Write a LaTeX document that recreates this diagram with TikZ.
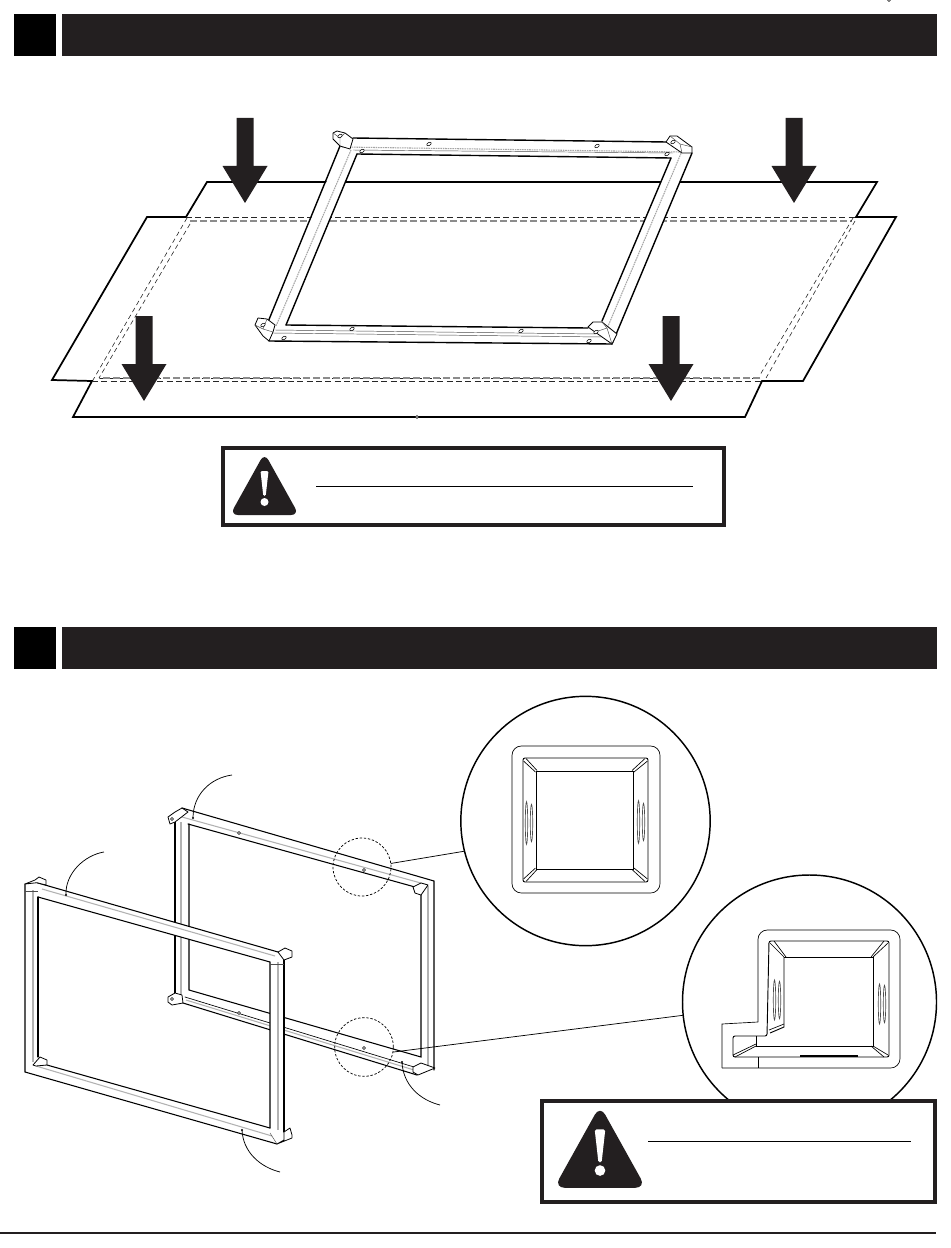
\documentclass[tikz,border=0pt]{standalone}
\definecolor{inkblack}{HTML}{231F20}
\tikzset{
  sheetline/.style={line width=1.3pt, line join=miter},
  hiddenblack/.style={line width=0.6pt, dash pattern=on 4.5pt off 2.5pt, black!85},
  hiddengray/.style={line width=0.8pt, dash pattern=on 5pt off 2.5pt, black!45},
  hiddenthin/.style={line width=0.45pt, dash pattern=on 3.5pt off 2.5pt, black!85},
  railface/.style={fill=white, draw=none},
  blockface/.style={fill=white, draw=black, line width=0.6pt, line join=round},
  railedge/.style={line width=1.05pt, line cap=round},
  frameedge/.style={line width=0.8pt, line cap=round},
  frameside/.style={line width=0.5pt, line cap=round},
  railseam/.style={line width=0.8pt, black!30},
  railthin/.style={line width=0.35pt, black!70},
  railstitch/.style={line width=0.8pt, black!35, dash pattern=on 1.2pt off 0.6pt},
  holemark/.style={draw=black, fill=white, line width=0.4pt},
  tagline/.style={line width=0.55pt},
  spotcirc/.style={circle, draw, fill=none, inner sep=0pt, outer sep=0pt, line width=0.55pt, dash pattern=on 1.8pt off 1.3pt},
  zoomcirc/.style={circle, draw, fill=white, inner sep=0pt, outer sep=0pt, line width=1.1pt},
  warnframe/.style={draw=inkblack, fill=white},
  zoomthick/.style={line width=0.7pt},
  zoomthin/.style={line width=0.5pt},
}
\begin{document}
\begin{tikzpicture}[x=0.75pt, y=-0.75pt]
  \useasboundingbox (0,0) rectangle (950,1248);

  % header bars
  \foreach \barY in {14,627} {
    \fill[black] (14,\barY) rectangle (56,\barY+42);
    \fill[inkblack] (62,\barY) rectangle (937,\barY+42);
  }
  \draw[line width=0.9pt, inkblack] (0,1233) -- (936,1233);

  % two sheets
  \draw[sheetline] (207,182) -- (877,182) -- (856,217) -- (896,217) -- (803,381) -- (762,381)
    -- (745,417) -- (73,417) -- (92,381) -- (52,380) -- (147,217) -- (186,217) -- cycle;
  \draw[hiddenblack] (186,217) -- (856,217);
  \draw[hiddengray] (190,221) -- (852,221);
  \draw[hiddenblack] (99,378) -- (760,378);
  \draw[hiddengray] (760,378) -- (99,378);
  \draw[hiddenblack] (92,381) -- (762,381);
  \draw[hiddenthin] (187,218) -- (93,380);
  \draw[hiddenthin] (190,224) -- (99,378);
  \draw[hiddenthin] (853,218) -- (760,375);
  \draw[hiddenthin] (855,221) -- (766,378);

  % top frame, rails
  \fill[railface] (341,147) -- (353,139) -- (357,155) -- (286,325) -- (268,322) -- cycle;
  \fill[railface] (602,321) -- (671,158) -- (692,153) -- (612,344) -- cycle;
  \fill[railface] (353,138) -- (667,142) -- (680,153) -- (671,158) -- (357,155) -- cycle;
  \fill[railface] (270,326) -- (286,325) -- (588,328) -- (612,344) -- (269,341) -- cycle;
  \draw[railedge] (340,146) -- (268,322);
  \draw[railedge] (357,154) -- (286,325);
  \draw[railedge] (692,153) -- (612,344);
  \draw[railedge] (671,158) -- (602,321);
  \draw[railedge] (353,138) -- (667,142);
  \draw[railedge] (357,154) -- (671,158);
  \draw[railedge] (286,325) -- (588,328);
  \draw[railedge] (269,341) -- (612,344);
  \draw[railstitch] (351,150) -- (276,326);
  \draw[railstitch] (682,151) -- (606,331);
  \draw[railstitch] (342,147) -- (680,152);
  \draw[railthin] (353,150) -- (673,153);
  \draw[railthin] (273,333) -- (602,337);
  \draw[railthin] (275,330) -- (596,334);

  % top frame, corner blocks
  \draw[blockface] (333,133) -- (337,131) -- (345,133) -- (353,139) -- (350,149) -- (340,146) -- (333,139) -- cycle;
  \draw[railthin] (333,133) -- (340,138) -- (340,146);
  \draw[railthin] (340,138) -- (345,133);
  \draw[blockface] (666,142) -- (670,136) -- (677,136) -- (692,147) -- (692,153) -- (682,153) -- cycle;
  \draw[railthin] (670,136) -- (680,144) -- (682,153);
  \draw[railthin] (680,144) -- (692,147);
  \draw[blockface] (255,325) -- (258,318) -- (267,319) -- (275,325) -- (273,332) -- (269,341) -- (263,336) -- cycle;
  \draw[railthin] (255,325) -- (263,329) -- (273,332);
  \draw[railthin] (263,329) -- (267,319);
  \draw[blockface] (588,327) -- (593,322) -- (602,322) -- (617,334) -- (612,344) -- (595,332) -- cycle;
  \draw[railthin] (595,332) -- (607,328) -- (602,322);
  \draw[railthin] (607,328) -- (612,344);

  % holes in the top frame
  \foreach \holeX/\holeY in {429/144,597/146,362/151,667/154,352/329,521/331,284/338,589/341,263/325,596/332,340/136,673/142}
    \draw[holemark, rotate around={30:(\holeX,\holeY)}] (\holeX,\holeY) ellipse (1.8pt and 1.1pt);

  % drop arrows
  \foreach \arrX/\arrY in {245/118,794/118,144/316,671/316}
    \fill[inkblack] (\arrX-8.5,\arrY) -- (\arrX+8.5,\arrY) -- (\arrX+8.5,\arrY+48) -- (\arrX+22.5,\arrY+48)
      -- (\arrX,\arrY+85) -- (\arrX-22.5,\arrY+48) -- (\arrX-8.5,\arrY+48) -- cycle;

  % warning boxes
  \draw[warnframe, line width=2.4pt] (223,448) rectangle (724,525);
  \draw[warnframe, line width=3pt] (542,1101) rectangle (935,1202);

  % back frame
  \fill[railface] (175,820) -- (189,824) -- (189,992) -- (183,1003) -- (175,1000) -- cycle;
  \fill[railface] (420,884) -- (434,881) -- (434,1070) -- (420,1064) -- cycle;
  \fill[railface] (176,811) -- (182,808) -- (434,881) -- (421,886) -- (415,887) -- (188,824) -- (175,820) -- cycle;
  \fill[railface] (188,990) -- (421,1057) -- (421,1064) -- (435,1068) -- (417,1075) -- (183,1003) -- cycle;
  \draw[frameedge] (182,808) -- (434,881) -- (434,1070);
  \draw[frameedge] (188,824) -- (415,887);
  \draw[frameedge] (189,824) -- (189,990) -- (421,1057) -- (421,895);
  \draw[frameedge] (175,822) -- (175,996);
  \draw[frameedge] (183,1003) -- (417,1075);
  \draw[railseam] (181,822) -- (181,997);
  \draw[railseam] (428,886) -- (428,1066);
  \draw[railseam] (182,817) -- (428,885);
  \draw[frameside] (185,997) -- (414,1067);
  \draw[railseam] (186,1000) -- (414,1070);
  \draw[blockface] (168,817) -- (175,812) -- (182,808) -- (188,812) -- (175,822) -- (170,824) -- cycle;
  \draw[blockface] (168,997) -- (175,993) -- (182,995) -- (183,1003) -- (172,1005) -- (168,1002) -- cycle;
  \draw[blockface] (413,887) -- (421,883) -- (428,885) -- (421,895) -- (415,893) -- cycle;
  \draw[blockface] (413,1067) -- (421,1063) -- (435,1068) -- (418,1075) -- (413,1072) -- cycle;
  \foreach \holeX/\holeY in {239/833,364/870,239/1013,364/1048,172/819,172/999,417,889/0/0}
    \ifx\holeY\undefined\else\draw[holemark] (\holeX,\holeY) circle (1.2pt);\fi

  % front frame
  \fill[railface] (25,884) -- (38,883) -- (38,1062) -- (25,1060) -- cycle;
  \fill[railface] (270,962) -- (284,960) -- (284,1132) -- (270,1128) -- cycle;
  \fill[railface] (25,884) -- (37,882.7) -- (278,952) -- (284,960) -- (270,962) -- (38,897) -- (25,892) -- cycle;
  \fill[railface] (38,1062) -- (47,1065) -- (270,1128) -- (284,1132) -- (284,1140) -- (277,1144) -- (25,1072) -- (25,1060) -- cycle;
  \draw[frameedge] (25,884) -- (25,1072) -- (277,1144);
  \draw[frameedge] (38,897) -- (38,1057);
  \draw[frameedge] (37,882.7) -- (278,952);
  \draw[frameedge] (38,897) -- (270,962) -- (270,1128);
  \draw[frameedge] (284,960) -- (284,1132);
  \draw[frameedge] (47,1065) -- (270,1128);
  \draw[railseam] (33,890) -- (33,1062);
  \draw[railseam] (278,962) -- (278,1130);
  \draw[railseam] (42,889) -- (275,956);
  \draw[railseam] (36,1066) -- (272,1136);
  \draw[railthin] (25,891) -- (38,891);
  \draw[railthin] (270,964) -- (284,964);
  \draw[railthin] (270,1133) -- (277,1144);
  \draw[blockface] (25,884) -- (35,880) -- (39,877) -- (46,880) -- (46,885) -- (37,882.7) -- cycle;
  \draw[blockface] (278,952) -- (285,948) -- (292,951) -- (292,957) -- (284,960) -- cycle;
  \draw[blockface] (284,1132) -- (290,1128) -- (292,1135) -- (292,1138) -- (277,1144) -- (284,1140) -- cycle;
  \draw[blockface] (33,1065) -- (40,1057) -- (47,1060) -- (47,1065) -- (36,1066) -- cycle;

  % tag curves
  \coordinate (tagBackTop) at (193,818);
  \coordinate (tagBackLow) at (402,1062);
  \coordinate (tagFrontTop) at (66,895);
  \coordinate (tagFrontLow) at (242,1130);
  \draw[tagline] (232,775) .. controls (210,778) and (193,795) .. (tagBackTop);
  \draw[tagline] (104,852) .. controls (85,855) and (65,873) .. (tagFrontTop);
  \draw[tagline] (tagBackLow) .. controls (403,1085) and (420,1100) .. (440,1105);
  \draw[tagline] (tagFrontLow) .. controls (243,1152) and (260,1167) .. (280,1172);
  \foreach \spot in {tagBackTop,tagBackLow,tagFrontTop,tagFrontLow}
    \fill (\spot) circle (0.9pt);

  % zoom circles and their leaders
  \node[spotcirc, minimum size=43.5pt] (spotA) at (362,867) {};
  \node[spotcirc, minimum size=44pt] (spotB) at (364,1047) {};
  \node[zoomcirc, minimum size=187pt] (zoomA) at (585.5,821) {};
  \node[zoomcirc, minimum size=190.5pt] (zoomB) at (809.5,1002) {};
  \draw[tagline] (spotA.7) -- (zoomA.194);
  \draw[tagline] (spotB.-10) -- (zoomB.186);

  % zoom A, square socket
  \draw[zoomthin, rounded corners=7pt] (512,746) rectangle (660,893);
  \draw[zoomthick, rounded corners=1.5pt] (523,758) rectangle (648,882);
  \draw[zoomthick] (536,771) rectangle (633,869);
  \draw[zoomthin] (523.5,761) -- (535.5,772);
  \draw[zoomthin] (526,758.5) -- (537,770.5);
  \draw[zoomthin] (647.5,761) -- (634,772);
  \draw[zoomthin] (645,758.5) -- (632,770.5);
  \draw[zoomthin] (647.5,879) -- (634,868);
  \draw[zoomthin] (645,881.5) -- (632,869.5);
  \draw[zoomthin] (523.5,879) -- (535.5,868);
  \draw[zoomthin] (526,881.5) -- (537,869.5);
  \foreach \ribX/\ribY in {529/823,641/822} {
    \draw[zoomthin, black!70] (\ribX-2.5,\ribY) ellipse (0.9pt and 16pt);
    \draw[zoomthin, black!70] (\ribX+2.5,\ribY) ellipse (0.9pt and 14pt);
  }

  % zoom B, corner block
  \draw[zoomthin, rounded corners=7pt] (758,1022) -- (758,930) -- (900,930) -- (900,1068) -- (722,1068);
  \draw[zoomthin] (722,1068) -- (722,1024) -- (758,1022);
  \draw[zoomthin] (758,1057) -- (758,1068);
  \draw[zoomthick, rounded corners=1.5pt] (769,941) -- (889,941) -- (889,1057) -- (733,1057) -- (733,1036) -- (767,1036) -- cycle;
  \draw[zoomthick] (784,957) -- (873,957) -- (873,1046) -- (756,1046) -- (756,1036);
  \draw[zoomthick] (784,957) -- (784,1027) -- (770,1033);
  \draw[zoomthin] (770,943) -- (784,957);
  \draw[zoomthin] (774,941) -- (786,957);
  \draw[zoomthin] (888,943) -- (873,957);
  \draw[zoomthin] (884,941) -- (871,957);
  \draw[zoomthin] (888,1055) -- (873,1046);
  \draw[zoomthin] (884,1057) -- (871,1046);
  \draw[zoomthin] (733,1055) -- (756,1044);
  \draw[zoomthin] (735,1057) -- (756,1046);
  \draw[zoomthin] (769,1030) -- (784,1024);
  \draw[line width=1pt] (800,1056) -- (858,1056);
  \foreach \ribX/\ribY in {777/1000,882/1004} {
    \draw[zoomthin, black!70] (\ribX-2.5,\ribY) ellipse (0.9pt and 15pt);
    \draw[zoomthin, black!70] (\ribX+2.5,\ribY) ellipse (0.9pt and 14pt);
  }

  % zoom B runs behind the lower warning box
  \fill[white] (544,1103) rectangle (933,1200);
  \draw[warnframe, fill=none, line width=3pt] (542,1101) rectangle (935,1202);

  % warning signs and rules
  \foreach \signX/\signY/\signS in {264.5/458/1,600/1112/1.33} {
    \begin{scope}[shift={(\signX,\signY)}, scale=\signS]
      \fill[inkblack, rounded corners=\signS*6pt] (0,-5) -- (34.5,57) -- (-34.5,57) -- cycle;
      \fill[white, rounded corners=\signS*1pt] (-4,13) -- (4,13) -- (1.2,38) -- (-1.2,38) -- cycle;
      \fill[white] (0,44) circle (3pt);
    \end{scope}
  }
  \draw[line width=0.6pt] (316,486) -- (693,486);
  \draw[line width=0.6pt] (648,1141) -- (911,1141);
\end{tikzpicture}
\end{document}
